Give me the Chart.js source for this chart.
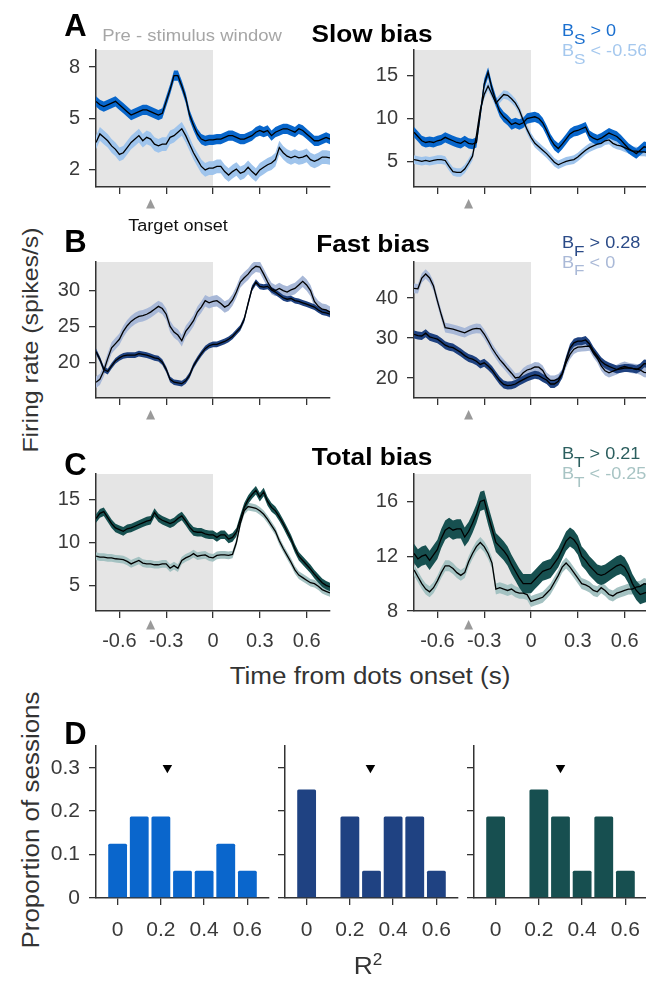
<!DOCTYPE html>
<html><head><meta charset="utf-8">
<script src="https://cdn.jsdelivr.net/npm/chart.js@4.4.1/dist/chart.umd.min.js"></script>
<style>
html,body{margin:0;padding:0;background:#fff;}
body{width:646px;height:981px;overflow:hidden;position:relative;font-family:"Liberation Sans",Arial,sans-serif;}
canvas{position:absolute;}
.t{position:absolute;white-space:nowrap;line-height:1;}
.sb{position:relative;top:0.5em;font-size:0.95em;}
</style></head><body>
<script>
// ---------------- data ----------------
const time = [-0.75,-0.725,-0.7,-0.675,-0.65,-0.625,-0.6,-0.575,-0.55,-0.525,
 -0.5,-0.475,-0.45,-0.425,-0.4,-0.375,-0.35,-0.325,-0.3,-0.275,
 -0.25,-0.225,-0.2,-0.175,-0.15,-0.125,-0.1,-0.075,-0.05,-0.025,
 0,0.025,0.05,0.075,0.1,0.125,0.15,0.175,0.2,0.225,
 0.25,0.275,0.3,0.325,0.35,0.375,0.4,0.425,0.45,0.475,
 0.5,0.525,0.55,0.575,0.6,0.625,0.65,0.675,0.7,0.725,0.75];
const timeTicks = [-0.6,-0.3,0,0.3,0.6];
const preWindow = [-0.75, 0];
const targetOnset = -0.4;

// Slow bias (A)
const slowHighN1 = [6.0,5.8,5.7,5.8,5.9,6.0,5.8,5.6,5.4,5.2, 5.3,5.4,5.5,5.5,5.4,5.3,5.2,5.3,6.0,6.7, 7.5,7.5,6.9,6.2,5.2,4.6,4.1,3.8,3.7,3.75, 3.75,3.8,3.8,3.9,4.0,4.0,3.9,3.8,3.8,3.9, 4.0,4.2,4.3,4.2,4.3,4.0,4.2,4.3,4.4,4.4, 4.3,4.2,4.4,4.3,4.1,3.9,3.7,3.7,3.8,3.9,3.8];
const slowLowN1 = [3.6,4.1,3.9,3.7,3.4,3.2,2.9,3.0,3.3,3.6, 3.8,4.0,3.7,3.9,3.8,3.5,3.4,3.5,3.5,3.9, 4.0,4.2,4.4,4.0,3.5,3.0,2.6,2.2,2.0,2.1, 2.1,2.2,2.2,1.9,1.7,1.9,2.05,1.8,1.9,2.15, 1.9,1.7,2.0,2.15,2.3,2.4,2.6,3.3,3.0,2.8, 2.7,2.8,2.7,2.75,2.85,2.6,2.5,2.6,2.75,2.75,2.7];
const slowHighN2 = [8.4,7.9,7.4,7.2,7.3,7.2,7.4,7.5,7.8,7.6, 7.4,7.2,7.1,7.4,7.1,7.0,7.2,10.5,14.0,15.4, 13.5,12.0,10.8,10.2,9.8,9.3,9.5,9.3,9.5,10.0, 10.1,10.2,10.0,9.5,8.6,7.6,6.9,6.5,7.0,7.6, 8.2,8.5,8.6,8.8,9.0,8.0,7.7,7.5,7.7,8.0, 8.3,8.1,7.9,7.5,7.0,6.5,6.2,5.9,6.3,6.7,6.6];
const slowLowN2 = [5.2,5.1,5.0,5.1,5.0,5.1,5.2,5.2,5.1,4.4, 3.8,3.7,3.7,4.1,4.8,5.6,8.0,11.0,12.8,13.8, 12.8,11.8,12.3,12.8,12.7,12.3,11.8,11.0,9.8,8.7, 7.8,7.1,6.7,6.3,5.9,5.4,4.9,4.6,4.8,5.0, 5.1,5.2,5.5,5.9,6.3,6.6,6.8,7.0,7.1,7.4, 7.5,7.1,6.9,6.8,6.6,6.4,6.2,6.2,6.1,6.1,6.0];
const slowSemN1 = [0.3, 0.4];
const slowSemN2 = [0.6, 0.5];

// Fast bias (B)
const fastHighN1 = [21.5,20.4,19.0,18.7,19.5,20.2,20.6,20.9,21.0,21.0, 21.0,21.2,21.1,21.0,20.8,20.6,20.5,20.0,19.0,17.6, 17.2,17.1,17.0,17.4,18.2,19.5,20.4,21.2,21.9,22.3, 22.5,22.5,22.7,22.9,23.2,23.6,24.2,24.8,26.0,28.2, 30.3,31.2,30.6,30.5,30.6,30.1,29.8,29.4,29.0,28.8, 28.9,28.6,28.5,28.3,28.1,27.9,27.7,27.3,27.0,26.9,26.7];
const fastLowN1 = [17.2,17.6,18.8,20.5,22.0,22.6,23.2,24.3,25.1,25.7, 26.1,26.4,26.5,26.7,27.0,27.4,27.8,27.5,26.7,25.0, 24.2,23.8,23.0,24.3,25.0,25.8,27.0,27.7,28.6,28.3, 28.5,28.6,28.2,27.7,28.0,28.7,29.8,31.2,31.8,32.3, 33.0,33.4,33.3,32.3,31.2,30.3,30.0,30.3,30.0,29.8, 30.1,30.3,30.8,31.3,30.8,30.0,28.5,27.8,27.4,27.3,27.0];
const fastHighN2 = [30.9,30.6,30.5,31.2,30.3,30.0,29.7,29.0,28.2,27.8, 27.6,27.0,26.4,25.6,25.0,24.7,24.2,23.4,23.8,23.0, 22.0,20.6,19.3,18.4,18.1,18.2,18.5,19.1,19.6,20.1, 20.5,20.8,20.6,20.0,19.5,18.5,18.5,19.2,21.0,24.5, 27.5,28.8,29.2,29.2,29.5,28.5,26.8,25.5,24.2,23.4, 22.9,22.5,22.1,22.3,22.5,22.5,22.4,22.1,22.6,23.6,23.5];
const fastLowN2 = [42.4,42.3,45.0,46.0,45.0,43.0,39.3,35.8,32.6,32.4, 32.2,31.9,31.6,31.3,31.8,32.2,32.4,32.3,31.0,29.3, 27.5,26.0,24.6,23.5,22.3,21.2,20.0,20.2,21.3,22.0, 22.3,22.8,22.7,21.9,20.2,19.4,19.4,19.8,21.0,23.8, 25.9,27.2,27.7,27.8,27.9,28.0,26.3,25.0,23.0,21.8, 21.3,21.7,22.1,22.6,22.9,22.6,22.4,22.3,22.0,21.4,21.3];
const fastSemN1 = [0.4, 0.8];
const fastSemN2 = [1.0, 1.2];

// Total bias (C)
const totalHighN1 = [12.8,13.4,13.6,12.9,12.2,11.7,11.5,11.3,11.6,11.7, 11.9,12.1,12.3,12.5,12.6,13.5,12.9,12.6,12.4,12.2, 12.4,12.8,13.1,12.5,11.8,11.3,11.2,11.2,11.0,10.9, 10.9,10.6,10.9,10.9,10.4,10.6,11.2,12.7,14.1,15.0, 15.6,16.1,15.3,15.9,14.8,14.1,13.7,13.0,12.2,11.3, 10.4,9.3,8.4,7.9,7.4,6.9,6.3,5.8,5.3,5.0,4.8];
const totalLowN1 = [8.4,8.3,8.3,8.2,8.2,8.1,8.05,8.0,7.8,7.5, 7.7,7.9,7.6,7.5,7.5,7.4,7.4,7.5,7.5,7.0, 7.3,7.0,7.9,8.2,8.4,8.7,8.4,8.5,8.55,8.3, 8.2,8.5,8.55,8.55,8.5,8.6,10.0,12.2,13.7,14.2, 14.1,14.0,13.7,13.3,12.7,12.0,11.3,10.2,9.3,8.5, 7.7,6.8,6.2,5.9,5.6,5.3,5.2,4.9,4.5,4.3,4.1];
const totalHighN2 = [12.2,11.8,12.0,12.1,11.7,12.1,12.5,13.3,13.9,14.1, 13.9,14.0,14.0,13.4,13.8,14.4,15.1,16.0,16.1,15.0, 14.0,13.0,12.7,12.4,12.0,11.4,10.9,10.4,10.0,10.0, 10.0,10.3,10.6,10.9,11.0,11.1,11.5,11.9,12.5,13.1, 13.4,13.2,12.8,12.0,11.7,11.3,11.0,10.7,10.6,10.7, 10.9,11.1,11.3,11.4,11.2,10.7,10.0,9.5,9.2,9.3,9.4];
const totalLowN2 = [11.0,10.5,10.0,9.6,9.4,9.7,10.2,10.8,11.3,11.3, 11.1,10.8,10.6,10.8,11.6,12.2,12.7,13.0,12.7,12.2, 11.5,9.6,9.7,9.6,9.5,9.6,9.4,9.3,9.3,9.2, 8.7,8.8,8.9,9.0,9.3,9.6,10.1,10.6,11.2,11.5, 11.2,10.8,10.4,10.0,9.9,9.75,9.5,9.4,9.7,9.5, 9.2,9.1,9.3,9.4,9.5,9.6,9.6,9.75,9.8,10.0,9.9];
const totalSemN1 = [0.5, 0.45];
const totalSemN2 = [0.7, 0.4];

// y ranges and tick labels
const slowTicksN1 = [2,5,8];   const slowRangeN1 = [1,9];
const slowTicksN2 = [5,10,15]; const slowRangeN2 = [2,18];
const fastTicksN1 = [20,25,30]; const fastRangeN1 = [15,34];
const fastTicksN2 = [20,30,40]; const fastRangeN2 = [15,49];
const totalTicksN1 = [5,10,15]; const totalRangeN1 = [2,18];
const totalTicksN2 = [8,12,16]; const totalRangeN2 = [8,18];

// Panel D: R^2 histograms
const r2Bins = [0, 0.1, 0.2, 0.3, 0.4, 0.5, 0.6];
const r2Ticks = [0, 0.2, 0.4, 0.6];
const propTicks = [0, 0.1, 0.2, 0.3];
const propSlow = [0.125, 0.1875, 0.1875, 0.0625, 0.0625, 0.125, 0.0625];
const propFast = [0.25, 0, 0.1875, 0.0625, 0.1875, 0.1875, 0.0625];
const propTotal = [0.1875, 0, 0.25, 0.1875, 0.0625, 0.1875, 0.0625];
const meanR2 = [0.23, 0.295, 0.30];
const meanMarkerLevel = 0.3;

// ---------------- styles ----------------
const FONT = '"Liberation Sans", Arial, sans-serif';
Chart.defaults.font.family = FONT;
const AX = '#333333';
const TICKCOL = '#3a3a3a';
const COL = {
  slow: ['#0866cb', '#9fc4ec'],
  fast: ['#1f4280', '#a8b8d7'],
  total: ['#175050', '#a4c2c2']
};
const YW = 50, PT = 25, PR = 20, XH = 45;

const shadePlugin = {
  id: 'preShade',
  beforeDraw(chart, args, opts) {
    const {ctx, chartArea: a, scales: {x}} = chart;
    const x0 = x.getPixelForValue(opts.range[0]), x1 = x.getPixelForValue(opts.range[1]);
    ctx.save(); ctx.fillStyle = '#e5e5e5';
    ctx.fillRect(x0, a.top, x1 - x0, a.bottom - a.top);
    ctx.restore();
  }
};
const onsetPlugin = {
  id: 'onsetMarker',
  afterDraw(chart, args, opts) {
    const {ctx, chartArea: a, scales: {x}} = chart;
    const px = x.getPixelForValue(opts.t), cy = a.bottom + opts.offset;
    ctx.save(); ctx.fillStyle = '#9a9a9a';
    ctx.beginPath();
    ctx.moveTo(px, cy - 5); ctx.lineTo(px + 4.5, cy + 4.5); ctx.lineTo(px - 4.5, cy + 4.5);
    ctx.closePath(); ctx.fill(); ctx.restore();
  }
};

function fmtNum(v) {
  if (Math.abs(v) < 1e-9) return '0';
  return (Math.round(v * 10) / 10).toString();
}

function makeCanvas(left, top, w, h) {
  const c = document.createElement('canvas');
  c.width = w; c.height = h;
  c.style.left = left + 'px'; c.style.top = top + 'px';
  c.style.width = w + 'px'; c.style.height = h + 'px';
  document.body.appendChild(c);
  return c;
}

function axisCommon(showLabels, pad, fsize) {
  return {
    ticks: {display: showLabels, color: TICKCOL, padding: pad, font: {size: fsize, family: FONT}, callback: v => fmtNum(v)},
    grid: {drawOnChartArea: false, drawTicks: true, tickLength: 7, color: AX, lineWidth: 1.3, offset: false},
    border: {display: true, color: AX, width: 1.5}
  };
}

function linePanel(plotLeft, plotTop, plotW, plotH, range, yTicks, showX, high, low, sem, cols, triOffset) {
  const w = YW + plotW + PR, h = PT + plotH + XH;
  const cv = makeCanvas(plotLeft - YW, plotTop - PT, w, h);
  const pts = (arr, d) => time.map((t, i) => ({x: t, y: arr[i] + d}));
  const band = (arr, s, col, ord) => [
    {data: pts(arr, s), borderWidth: 0, pointRadius: 0, fill: '+1', backgroundColor: col, order: ord},
    {data: pts(arr, -s), borderWidth: 0, pointRadius: 0, fill: false, order: ord}
  ];
  const datasets = [
    ...band(low, sem[1], cols[1], 5),
    ...band(high, sem[0], cols[0], 4),
    {data: pts(low, 0), borderColor: '#000', borderWidth: 1.3, pointRadius: 0, fill: false, order: 1},
    {data: pts(high, 0), borderColor: '#000', borderWidth: 1.3, pointRadius: 0, fill: false, order: 0}
  ];
  const xs = axisCommon(showX, 11, 20);
  const ys = axisCommon(true, 9, 20);
  new Chart(cv, {
    type: 'line',
    data: {datasets},
    options: {
      responsive: false, animation: false, devicePixelRatio: 1,
      layout: {padding: {top: PT, right: PR, bottom: 0, left: 0}},
      plugins: {legend: {display: false}, tooltip: {enabled: false},
        preShade: {range: preWindow}, onsetMarker: {t: targetOnset, offset: triOffset}},
      elements: {line: {tension: 0}},
      scales: {
        x: Object.assign({type: 'linear', min: time[0], max: time[time.length - 1],
          afterBuildTicks: s => { s.ticks = timeTicks.map(v => ({value: v})); },
          afterFit: s => { s.height = XH; }}, xs),
        y: Object.assign({type: 'linear', min: range[0], max: range[1],
          afterBuildTicks: s => { s.ticks = yTicks.map(v => ({value: v})); },
          afterFit: s => { s.width = YW; }}, ys)
      }
    },
    plugins: [shadePlugin, onsetPlugin]
  });
}

function histPanel(plotLeft, plotTop, plotW, plotH, props, mean, col, showY) {
  const w = YW + plotW + PR, h = PT + plotH + 55;
  const cv = makeCanvas(plotLeft - YW, plotTop - PT, w, h);
  const xs = axisCommon(true, 13, 21);
  const ys = axisCommon(showY, 9, 21);
  new Chart(cv, {
    type: 'bar',
    data: {datasets: [
      {type: 'scatter', data: [{x: mean, y: meanMarkerLevel}], pointStyle: 'triangle', rotation: 180,
       pointRadius: 5.5, backgroundColor: '#000', borderColor: '#000', borderWidth: 0, order: 0},
      {type: 'bar', data: r2Bins.map((b, i) => ({x: b, y: props[i]})), backgroundColor: col,
       barPercentage: 1, categoryPercentage: 0.87, borderRadius: 1.5, borderSkipped: 'bottom', order: 1}
    ]},
    options: {
      responsive: false, animation: false, devicePixelRatio: 1,
      layout: {padding: {top: PT, right: PR, bottom: 0, left: 0}},
      plugins: {legend: {display: false}, tooltip: {enabled: false}},
      scales: {
        x: Object.assign({type: 'linear', min: -0.1, max: 0.7, offset: false,
          afterBuildTicks: s => { s.ticks = r2Ticks.map(v => ({value: v})); },
          afterFit: s => { s.height = 55; }}, xs),
        y: Object.assign({type: 'linear', min: 0, max: 0.35,
          afterBuildTicks: s => { s.ticks = propTicks.map(v => ({value: v})); },
          afterFit: s => { s.width = YW; }}, ys)
      }
    }
  });
}

// ---------------- panels ----------------
linePanel(96, 50, 234, 137, slowRangeN1, slowTicksN1, false, slowHighN1, slowLowN1, slowSemN1, COL.slow, 17);
linePanel(414, 50, 234, 137, slowRangeN2, slowTicksN2, false, slowHighN2, slowLowN2, slowSemN2, COL.slow, 17);
linePanel(96, 262, 234, 136, fastRangeN1, fastTicksN1, false, fastHighN1, fastLowN1, fastSemN1, COL.fast, 17);
linePanel(414, 262, 234, 136, fastRangeN2, fastTicksN2, false, fastHighN2, fastLowN2, fastSemN2, COL.fast, 17);
linePanel(96, 474, 234, 137, totalRangeN1, totalTicksN1, true, totalHighN1, totalLowN1, totalSemN1, COL.total, 14);
linePanel(414, 474, 234, 137, totalRangeN2, totalTicksN2, true, totalHighN2, totalLowN2, totalSemN2, COL.total, 14);

histPanel(96, 746, 173, 152, propSlow, meanR2[0], '#0a66cc', true);
histPanel(285, 746, 173, 152, propFast, meanR2[1], '#1f4282', false);
histPanel(474, 746, 173, 152, propTotal, meanR2[2], '#174f50', false);

// ---------------- text ----------------
function addText(html, x, y, o) {
  const d = document.createElement('div');
  d.className = 't';
  d.innerHTML = html;
  d.style.left = x + 'px'; d.style.top = y + 'px';
  d.style.fontSize = (o.size || 16) + 'px';
  d.style.fontWeight = o.bold ? 'bold' : 'normal';
  d.style.color = o.color || '#000';
  const sx = o.sx || 1;
  if (o.align === 'left') {
    d.style.transformOrigin = '0 50%';
    d.style.transform = 'translate(0,-50%) scaleX(' + sx + ')';
  } else if (o.rotate) {
    d.style.transform = 'translate(-50%,-50%) rotate(-90deg) scaleX(' + sx + ')';
  } else {
    d.style.transform = 'translate(-50%,-50%) scaleX(' + sx + ')';
  }
  document.body.appendChild(d);
}
addText('A', 75.5, 24.5, {size: 31, bold: true});
addText('B', 75.5, 241, {size: 31, bold: true});
addText('C', 75.5, 464, {size: 31, bold: true});
addText('D', 75.5, 732.5, {size: 31, bold: true});
addText('Pre - stimulus window', 192, 34.5, {size: 16.5, color: '#a6a6a6', sx: 1.12});
addText('Slow bias', 372, 33.5, {size: 23, bold: true, sx: 1.14});
addText('Fast bias', 373, 244, {size: 23, bold: true, sx: 1.14});
addText('Total bias', 372, 456.5, {size: 23, bold: true, sx: 1.14});
addText('Target onset', 178, 226, {size: 16, color: '#111', sx: 1.13});
addText('B<span class="sb">S</span> &gt; 0', 562, 31, {size: 16, color: '#1a6fcf', sx: 1.13, align: 'left'});
addText('B<span class="sb">S</span> &lt; -0.56', 562, 51, {size: 16, color: '#a5c8ee', sx: 1.13, align: 'left'});
addText('B<span class="sb">F</span> &gt; 0.28', 562, 243, {size: 16, color: '#2a4a87', sx: 1.13, align: 'left'});
addText('B<span class="sb">F</span> &lt; 0', 562, 262.5, {size: 16, color: '#aab9d7', sx: 1.13, align: 'left'});
addText('B<span class="sb">T</span> &gt; 0.21', 562, 454, {size: 16, color: '#2b5e5e', sx: 1.13, align: 'left'});
addText('B<span class="sb">T</span> &lt; -0.25', 562, 474, {size: 16, color: '#a8c4c4', sx: 1.13, align: 'left'});
addText('Firing rate (spikes/s)', 31, 340, {size: 22, color: '#333', sx: 1.13, rotate: true});
addText('Time from dots onset (s)', 370, 675.5, {size: 23, color: '#333', sx: 1.13});
addText('Proportion of sessions', 31, 820, {size: 23, color: '#333', sx: 1.13, rotate: true});
addText('R<sup style="font-size:0.65em;vertical-align:0.6em;line-height:0">2</sup>', 368, 966, {size: 24, color: '#333', sx: 1.1});
</script>
</body></html>
